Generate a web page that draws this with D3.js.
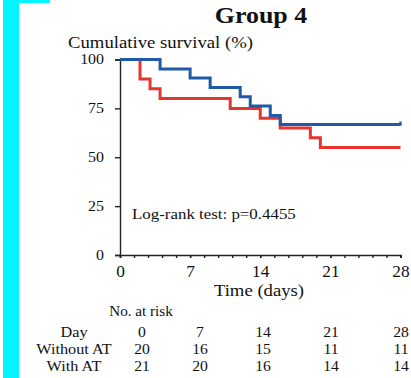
<!DOCTYPE html>
<html>
<head>
<meta charset="utf-8">
<script src="https://cdn.jsdelivr.net/npm/d3@7"></script>
<style>
  html, body { margin: 0; padding: 0; background: #fff; }
  svg { display: block; }
  text { font-family: "Liberation Serif", "Times New Roman", serif; fill: #111; }
</style>
</head>
<body>
<svg id="chart" width="411" height="378"></svg>
<script>
// Kaplan–Meier step points: [day, survival %]
const withATSteps = [[0,100],[4,95.2],[7,90.5],[9,85.7],[12,81.0],[13,76.2],[15,71.4],[16,66.7],[28,66.7]];
const withoutATSteps = [[0,100],[2,90],[3,85],[4,80],[11,75],[14,70],[16,65],[19,60],[20,55],[28,55]];

const yTicks = [0, 25, 50, 75, 100];
const xTicks = [0, 7, 14, 21, 28];

// Number at risk table
const riskDays = [0, 7, 14, 21, 28];
const riskWithoutAT = [20, 16, 15, 11, 11];
const riskWithAT = [21, 20, 16, 14, 14];
const riskLabels = ["Day", "Without AT", "With AT"];

const svg = d3.select("#chart");

// slightly widened serif lettering
function label(px, py, str, size, opts = {}) {
  const sx = opts.sx || 1.1;
  return svg.append("text")
    .attr("transform", `translate(${px},${py}) scale(${sx},1)`)
    .attr("text-anchor", opts.anchor || "start")
    .attr("font-size", size)
    .attr("font-weight", opts.weight || "normal")
    .text(str);
}

// decorative cyan frame on the left
svg.append("rect").attr("x", 3).attr("y", 0).attr("width", 16).attr("height", 378).attr("fill", "#00f5ff");
svg.append("rect").attr("x", 3).attr("y", 0).attr("width", 47).attr("height", 3).attr("fill", "#00f5ff");

const x = d3.scaleLinear().domain([0, 28]).range([120, 400.5]);
const y = d3.scaleLinear().domain([0, 100]).range([255, 59.5]);

// Titles
label(261, 23, "Group 4", 24, { anchor: "middle", weight: "bold", sx: 1.08 });
label(68, 48, "Cumulative survival (%)", 16, { sx: 1.17 });

// Y axis
const yAxis = d3.axisLeft(y).tickValues(yTicks).tickSize(5).tickPadding(9);
const gy = svg.append("g").attr("transform", `translate(${x(0)},0)`).call(yAxis);
gy.select(".domain").attr("stroke", "#222").attr("stroke-width", 1.4);
gy.selectAll(".tick line").attr("stroke", "#222").attr("stroke-width", 1.4);
gy.selectAll(".tick text").attr("font-family", "Liberation Serif, serif").attr("font-size", 14)
  .attr("fill", "#111").attr("transform", "scale(1.14,1)");

// X axis with minor ticks every 1.4 days
const minor = d3.range(0, 21).map(i => i * 1.4);
const gxm = svg.append("g").attr("transform", `translate(0,${y(0)})`)
  .call(d3.axisBottom(x).tickValues(minor).tickSize(3).tickFormat(""));
gxm.select(".domain").attr("stroke", "#222").attr("stroke-width", 1.4);
gxm.selectAll(".tick line").attr("stroke", "#222").attr("stroke-width", 1.4);
const gx = svg.append("g").attr("transform", `translate(0,${y(0)})`)
  .call(d3.axisBottom(x).tickValues(xTicks).tickSize(3).tickPadding(8));
gx.select(".domain").remove();
gx.selectAll(".tick line").attr("stroke", "#222").attr("stroke-width", 1.4);
gx.selectAll(".tick text").attr("font-family", "Liberation Serif, serif").attr("font-size", 16)
  .attr("fill", "#111").attr("transform", "scale(1.08,1)");

label(259, 296, "Time (days)", 17, { anchor: "middle", sx: 1.1 });

// Survival curves
const line = d3.line().x(d => x(d[0])).y(d => y(d[1])).curve(d3.curveStepAfter);
svg.append("path").datum(withoutATSteps).attr("d", line)
  .attr("fill", "none").attr("stroke", "#e6352e").attr("stroke-width", 3);
svg.append("path").datum(withATSteps).attr("d", line)
  .attr("fill", "none").attr("stroke", "#1f5aa8").attr("stroke-width", 3);
// censor mark at end of the With AT curve
const last = withATSteps[withATSteps.length - 1];
svg.append("line").attr("x1", x(last[0])).attr("x2", x(last[0]))
  .attr("y1", y(last[1]) - 3).attr("y2", y(last[1]) + 1)
  .attr("stroke", "#1f5aa8").attr("stroke-width", 2.4);

label(132, 219, "Log-rank test: p=0.4455", 15.5, { sx: 1.09 });

// Number at risk table
label(141, 316, "No. at risk", 14, { anchor: "middle", sx: 1.08 });
const colX = [142, 200, 263, 331, 401];
const rows = [riskDays, riskWithoutAT, riskWithAT];
const rowY = [337, 354, 371];
rows.forEach((vals, r) => {
  label(74, rowY[r], riskLabels[r], 14.5, { anchor: "middle", sx: 1.12 });
  vals.forEach((v, i) => label(colX[i], rowY[r], v, 14.5, { anchor: "middle", sx: 1.08 }));
});
</script>
</body>
</html>
